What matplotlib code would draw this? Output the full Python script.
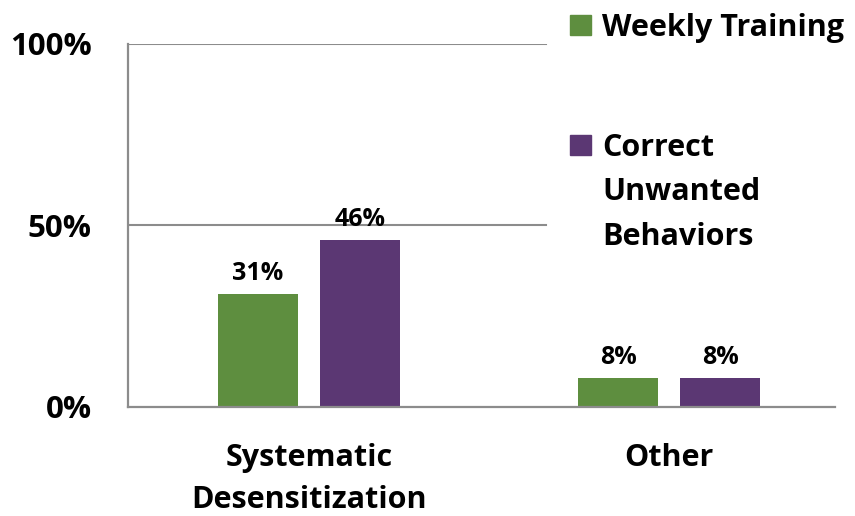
import numpy as np
import matplotlib.pyplot as plt
from matplotlib.patches import Rectangle

categories = ["Systematic\nDesensitization", "Other"]
series_names = ["Weekly Training", "Correct\nUnwanted\nBehaviors"]
weekly_training = [0.31, 0.08]
correct_unwanted = [0.46, 0.08]
yticks = [0.0, 0.5, 1.0]
ytick_labels = ["0%", "50%", "100%"]

GREEN = "#5E8E3F"
PURPLE = "#5B3773"
GRAY = "#8C8C8C"
FONT = "Open Sans"

W, H = 855, 516
fig = plt.figure(figsize=(W / 100, H / 100), dpi=100)
ax = fig.add_axes([128 / W, (H - 407) / H, (835 - 128) / W, (407 - 44) / H])

x = np.arange(len(categories))
bw = 0.222
off = 0.142
b1 = ax.bar(x - off, weekly_training, bw, color=GREEN)
b2 = ax.bar(x + off, correct_unwanted, bw, color=PURPLE)

for bars in (b1, b2):
    for r in bars:
        ax.annotate(f"{r.get_height() * 100:.0f}%",
                    (r.get_x() + r.get_width() / 2, r.get_height()),
                    xytext=(0, 6), textcoords="offset points",
                    ha="center", va="bottom", fontsize=18,
                    fontweight="bold", family=FONT)

ax.set_xlim(-0.503, 1.46)
ax.set_ylim(0, 1)

# gridlines stop where the legend box starts
grid_end = (546 - 128) / (835 - 128)
for yv in yticks[1:]:
    ax.axhline(yv, xmin=0, xmax=grid_end, color=GRAY, linewidth=1.5, zorder=0)

for s in ("top", "right"):
    ax.spines[s].set_visible(False)
for s in ("left", "bottom"):
    ax.spines[s].set_color(GRAY)
    ax.spines[s].set_linewidth(1.6)

ax.set_yticks(yticks)
ax.set_yticklabels(ytick_labels, fontsize=22.5, fontweight="bold", family=FONT)
ax.set_xticks(x)
ax.set_xticklabels(categories, fontsize=22, fontweight="bold", family=FONT)
for t in ax.get_xticklabels():
    t.set_linespacing(1.53)
ax.tick_params(axis="y", length=0, pad=26)
ax.tick_params(axis="x", length=0, pad=26)

# legend drawn as keys + labels
colors = [GREEN, PURPLE]
key_tops = [15, 135]
for c, name, top in zip(colors, series_names, key_tops):
    fig.patches.append(Rectangle((570 / W, 1 - (top + 20) / H), 21 / W, 20 / H,
                                 transform=fig.transFigure, color=c))
    fig.text(602 / W, 1 - (top - 2) / H, name, ha="left", va="top",
             fontsize=22, fontweight="bold", family=FONT, linespacing=1.63)

fig.savefig("out.png", dpi=100)
